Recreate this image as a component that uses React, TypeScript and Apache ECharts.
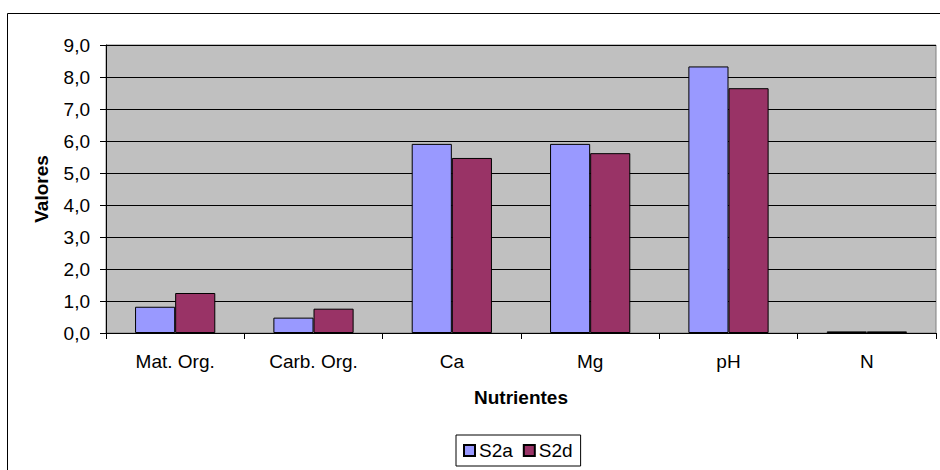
import React, { useEffect, useRef } from "react";
import * as echarts from "echarts";

const categories = ["Mat. Org.", "Carb. Org.", "Ca", "Mg", "pH", "N"];
const s2a = [0.82, 0.48, 5.91, 5.91, 8.33, 0.05];
const s2d = [1.25, 0.76, 5.47, 5.62, 7.65, 0.05];
const seriesNames = ["S2a", "S2d"];
const yTicks = { min: 0, max: 9, interval: 1 };

const FONT = "'Liberation Sans', Arial, sans-serif";
const FS = 19;

export default function App() {
  const ref = useRef<HTMLDivElement>(null);
  useEffect(() => {
    if (!ref.current) return;
    const chart = echarts.init(ref.current, null, { renderer: "svg" });
    chart.setOption({
      animation: false,
      backgroundColor: "#ffffff",
      textStyle: { fontFamily: FONT, color: "#000" },
      graphic: [
        {
          type: "rect",
          shape: { x: 7.5, y: 13.5, width: 1000, height: 1000 },
          style: { fill: "none", stroke: "#000", lineWidth: 1 },
          silent: true,
          z: -1,
        },
      ],
      grid: {
        left: 106,
        right: 4,
        top: 45,
        bottom: 137,
        show: true,
        backgroundColor: "#C0C0C0",
        borderColor: "#808080",
        borderWidth: 1,
      },
      legend: {
        data: seriesNames,
        left: 456,
        top: 435,
        orient: "horizontal",
        padding: [6, 8, 6, 7],
        borderColor: "#000",
        borderWidth: 1,
        itemWidth: 11,
        itemHeight: 11,
        itemGap: 10,
        icon: "rect",
        textStyle: { fontFamily: FONT, fontSize: FS, color: "#000", padding: [0, 0, 0, -1] },
      },
      xAxis: {
        type: "category",
        data: categories,
        name: "Nutrientes",
        nameLocation: "middle",
        nameGap: 55,
        nameTextStyle: { fontFamily: FONT, fontSize: FS, fontWeight: "bold", color: "#000" },
        axisLine: { lineStyle: { color: "#000", width: 1 } },
        axisTick: { show: true, length: 6, lineStyle: { color: "#000" } },
        axisLabel: { fontFamily: FONT, fontSize: FS, color: "#000", margin: 19 },
      },
      yAxis: {
        type: "value",
        min: yTicks.min,
        max: yTicks.max,
        interval: yTicks.interval,
        name: "Valores",
        nameLocation: "middle",
        nameGap: 55,
        nameTextStyle: { fontFamily: FONT, fontSize: FS, fontWeight: "bold", color: "#000" },
        axisLine: { show: true, lineStyle: { color: "#000", width: 1 } },
        axisTick: { show: true, length: 6, lineStyle: { color: "#000" } },
        axisLabel: {
          fontFamily: FONT,
          fontSize: FS,
          color: "#000",
          margin: 16,
          formatter: (v: number) => v.toFixed(1).replace(".", ","),
        },
        splitLine: { show: true, lineStyle: { color: "#000", width: 1 } },
      },
      series: [
        {
          name: seriesNames[0],
          type: "bar",
          data: s2a,
          barGap: "0%",
          barCategoryGap: "42%",
          itemStyle: { color: "#9999FF", borderColor: "#000", borderWidth: 1 },
        },
        {
          name: seriesNames[1],
          type: "bar",
          data: s2d,
          barGap: "0%",
          barCategoryGap: "42%",
          itemStyle: { color: "#993366", borderColor: "#000", borderWidth: 1 },
        },
      ],
    });
    return () => chart.dispose();
  }, []);
  return (
    <div
      ref={ref}
      style={{ position: "fixed", left: 0, top: 0, width: 940, height: 470 }}
    />
  );
}
